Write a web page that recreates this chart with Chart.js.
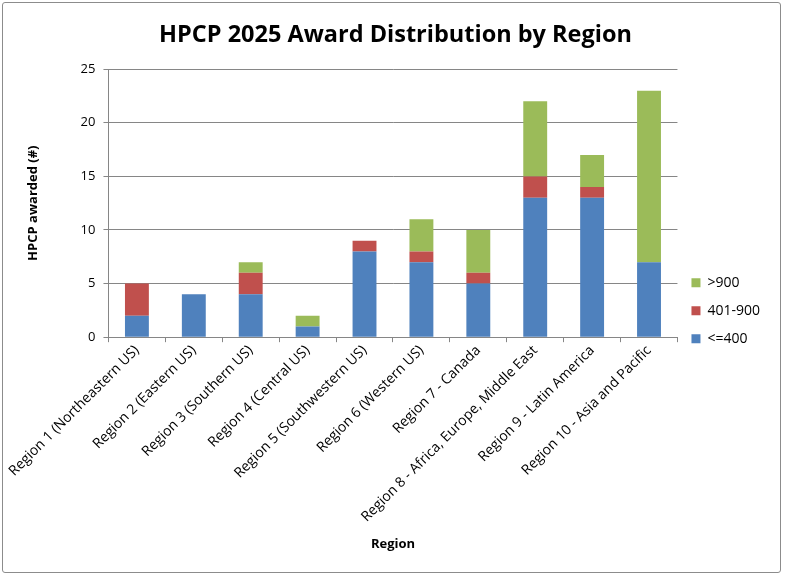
<!DOCTYPE html>
<html>
<head>
<meta charset="utf-8">
<script src="https://cdn.jsdelivr.net/npm/chart.js@4"></script>
<style>
  body { margin: 0; background: #fff; }
  #wrap { position: absolute; left: 2px; top: 2px; width: 777px; height: 569px;
          border: 1px solid #8c8c8c; border-radius: 3px; background: #fff; }
  canvas { display: block; }
</style>
</head>
<body>
<div id="wrap"><canvas id="chart" width="777" height="569"></canvas></div>
<script>
const regions = [
  'Region 1 (Northeastern US)', 'Region 2 (Eastern US)', 'Region 3 (Southern US)',
  'Region 4 (Central US)', 'Region 5 (Southwestern US)', 'Region 6 (Western US)',
  'Region 7 - Canada', 'Region 8 - Africa, Europe, Middle East',
  'Region 9 - Latin America', 'Region 10 - Asia and Pacific'
];
const upTo400 = [2, 4, 4, 1, 8, 7, 5, 13, 13, 7];
const from401To900 = [3, 0, 2, 0, 1, 1, 1, 2, 1, 0];
const over900 = [0, 0, 1, 1, 0, 3, 4, 7, 3, 16];
const yTicks = [0, 5, 10, 15, 20, 25];

Chart.defaults.font.family = '"Open Sans", sans-serif';
Chart.defaults.color = '#000';

new Chart(document.getElementById('chart').getContext('2d'), {
  type: 'bar',
  data: {
    labels: regions,
    datasets: [
      { label: '<=400', data: upTo400, backgroundColor: '#4f81bd' },
      { label: '401-900', data: from401To900, backgroundColor: '#c0504d' },
      { label: '>900', data: over900, backgroundColor: '#9bbb59' }
    ]
  },
  options: {
    responsive: false,
    animation: false,
    layout: { padding: { left: 18, right: 10, bottom: 16 } },
    datasets: { bar: { barPercentage: 0.42, categoryPercentage: 1 } },
    plugins: {
      title: {
        display: true,
        text: 'HPCP 2025 Award Distribution by Region',
        font: { size: 23.5, weight: 'bold' },
        padding: { top: 18, bottom: 20 }
      },
      legend: {
        position: 'right',
        reverse: true,
        title: { display: true, text: ' ', padding: { top: 0, bottom: 48 } },
        labels: { boxWidth: 9, boxHeight: 9, padding: 14, font: { size: 14 } }
      },
      tooltip: { enabled: false }
    },
    scales: {
      x: {
        stacked: true,
        offset: true,
        grid: { offset: true, drawOnChartArea: false, color: '#868686', tickLength: 5 },
        border: { color: '#868686' },
        ticks: { maxRotation: 45, minRotation: 45, font: { size: 14 }, padding: 0 },
        title: { display: true, text: 'Region', font: { size: 13, weight: 'bold' }, padding: { top: 11 } }
      },
      y: {
        stacked: true,
        min: 0,
        max: 25,
        afterBuildTicks: (axis) => { axis.ticks = yTicks.map(v => ({ value: v })); },
        grid: { color: '#868686', tickLength: 5 },
        border: { color: '#868686' },
        ticks: { font: { size: 13 }, padding: 8 },
        title: { display: true, text: 'HPCP awarded (#)', font: { size: 13, weight: 'bold' }, padding: { bottom: 32 } }
      }
    }
  }
});
</script>
</body>
</html>
